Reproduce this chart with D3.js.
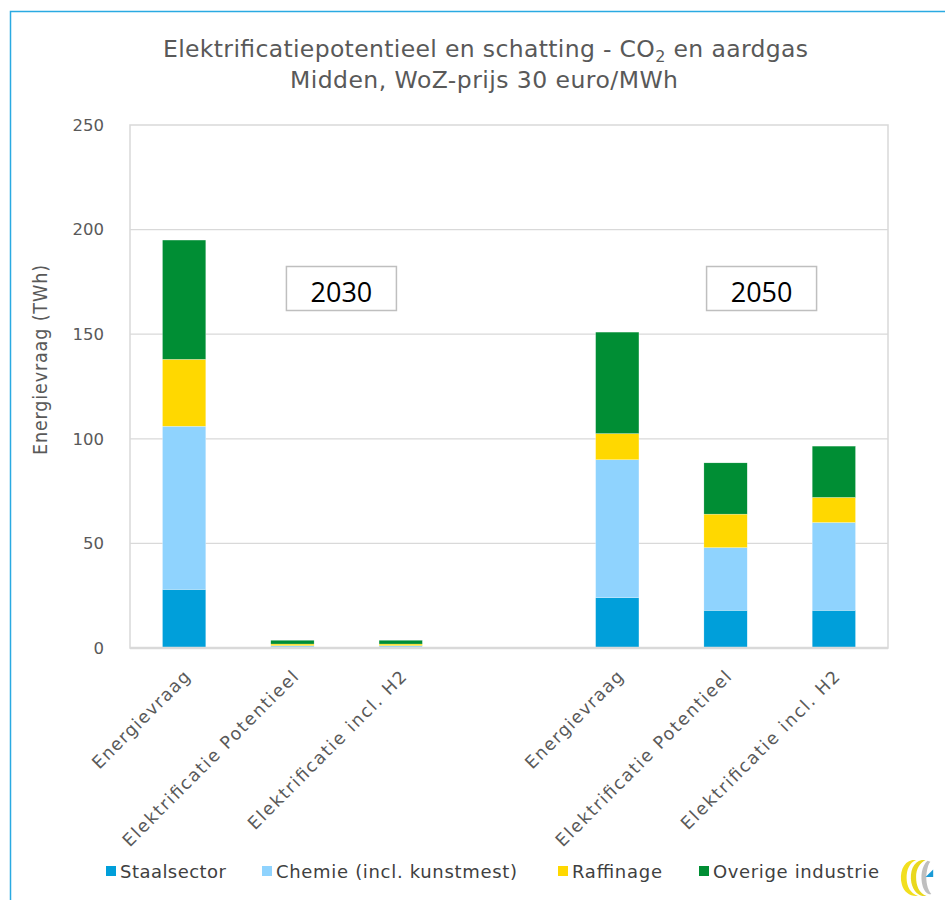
<!DOCTYPE html>
<html>
<head>
<meta charset="utf-8">
<script src="https://cdn.jsdelivr.net/npm/d3@7"></script>
<style>
  html, body { margin: 0; padding: 0; background: #fff; }
  svg { display: block; }
</style>
</head>
<body>
<svg id="chart" width="945" height="900"></svg>
<script>
// Categories along the x axis; the empty slot separates 2030 from 2050
const categories = ["Energievraag", "Elektrificatie Potentieel", "Elektrificatie incl. H2", "",
                    "Energievraag", "Elektrificatie Potentieel", "Elektrificatie incl. H2"];
const yearLabels = ["2030", "2050"];

// Energy demand per sector (TWh)
const staalsector = [28, 0.3, 0.3, 0, 24, 18, 18];
const chemie      = [78, 0.8, 0.8, 0, 66, 30, 42];
const raffinage   = [32, 0.8, 0.8, 0, 12.5, 16, 12];
const overige     = [57, 1.8, 1.8, 0, 48.5, 24.5, 24.5];

const seriesNames = ["Staalsector", "Chemie (incl. kunstmest)", "Raffinage", "Overige industrie"];
const seriesColors = ["#009fda", "#8fd3fe", "#ffd800", "#008e34"];
const yTicks = [0, 50, 100, 150, 200, 250];

const rows = categories.map((c, i) => ({
  idx: i, cat: c,
  s0: staalsector[i], s1: chemie[i], s2: raffinage[i], s3: overige[i]
}));

const svg = d3.select("#chart");

// Outer frame
svg.append("path")
  .attr("d", "M10.5,960 L10.5,11.5 L960,11.5")
  .attr("fill", "none").attr("stroke", "#2aaae2").attr("stroke-width", 1.5);

const plot = { left: 130, right: 888, top: 125, bottom: 648 };

const x = d3.scaleBand()
  .domain(rows.map(d => d.idx))
  .range([plot.left, plot.right])
  .paddingInner(0.6).paddingOuter(0.3);

const y = d3.scaleLinear().domain([0, 250]).range([plot.bottom, plot.top]);

// Gridlines
svg.append("g").selectAll("line")
  .data(yTicks.filter(t => t > 0 && t < 250))
  .join("line")
  .attr("x1", plot.left).attr("x2", plot.right)
  .attr("y1", d => y(d)).attr("y2", d => y(d))
  .attr("stroke", "#d9d9d9").attr("stroke-width", 1.3);

// Plot area border
svg.append("rect")
  .attr("x", plot.left).attr("y", plot.top)
  .attr("width", plot.right - plot.left).attr("height", plot.bottom - plot.top)
  .attr("fill", "none").attr("stroke", "#d9d9d9").attr("stroke-width", 1.5);

// Y axis tick labels
const yAxis = d3.axisLeft(y).tickValues(yTicks).tickSize(0).tickPadding(26);
svg.append("g")
  .attr("transform", `translate(${plot.left},0)`)
  .call(yAxis)
  .call(g => g.select(".domain").remove())
  .selectAll("text")
  .attr("font-family", "Verdana, 'DejaVu Sans', sans-serif")
  .attr("font-size", 16.5)
  .attr("fill", "#595959");

// Stacked bars
const keys = ["s0", "s1", "s2", "s3"];
const stacked = d3.stack().keys(keys)(rows);

svg.append("g").selectAll("g")
  .data(stacked)
  .join("g")
  .attr("fill", (d, i) => seriesColors[i])
  .selectAll("rect")
  .data(d => d.filter(p => p.data.cat !== ""))
  .join("rect")
  .attr("x", d => x(d.data.idx))
  .attr("width", x.bandwidth())
  .attr("y", d => y(d[1]))
  .attr("height", d => y(d[0]) - y(d[1]))
  .attr("stroke", "#ffffff").attr("stroke-width", 0.4).attr("stroke-opacity", 0.6);

// Bottom axis line
svg.append("line")
  .attr("x1", plot.left).attr("x2", plot.right)
  .attr("y1", plot.bottom).attr("y2", plot.bottom)
  .attr("stroke", "#d9d9d9").attr("stroke-width", 2.5);

// X axis category labels, rotated
const labelLength = {
  "Energievraag": 130,
  "Elektrificatie Potentieel": 240,
  "Elektrificatie incl. H2": 216
};
svg.append("g").selectAll("text")
  .data(rows.filter(d => d.cat !== ""))
  .join("text")
  .attr("transform", d => `translate(${x(d.idx) + x.bandwidth() / 2 + 7},${plot.bottom + 30}) rotate(-45)`)
  .attr("text-anchor", "end")
  .attr("font-family", "'DejaVu Sans', sans-serif")
  .attr("font-size", 17.5)
  .attr("fill", "#595959")
  .attr("textLength", d => labelLength[d.cat])
  .attr("lengthAdjust", "spacing")
  .text(d => d.cat);

// Y axis title
svg.append("text")
  .attr("transform", "translate(47,360) rotate(-90)")
  .attr("text-anchor", "middle")
  .attr("font-family", "'DejaVu Sans Condensed', sans-serif")
  .attr("font-size", 19.5)
  .attr("fill", "#595959")
  .attr("textLength", 190)
  .attr("lengthAdjust", "spacing")
  .text("Energievraag (TWh)");

// Chart title (two lines)
const titleFont = "'DejaVu Sans', sans-serif";
const title1 = svg.append("text")
  .attr("x", 163).attr("y", 57)
  .attr("font-family", titleFont)
  .attr("font-size", 23.5)
  .attr("fill", "#595959")
  .attr("textLength", 645)
  .attr("lengthAdjust", "spacing");
title1.append("tspan").text("Elektrificatiepotentieel en schatting - CO");
title1.append("tspan").attr("font-size", 16).attr("dy", 5).text("2");
title1.append("tspan").attr("dy", -5).text(" en aardgas");

svg.append("text")
  .attr("x", 290).attr("y", 88)
  .attr("font-family", titleFont)
  .attr("font-size", 23.5)
  .attr("fill", "#595959")
  .attr("textLength", 388)
  .attr("lengthAdjust", "spacing")
  .text("Midden, WoZ-prijs 30 euro/MWh");

// Year boxes
const yearCenters = [x(1) + x.bandwidth() / 2 + 49, x(5) + x.bandwidth() / 2 + 36];
yearLabels.forEach((lab, i) => {
  const cx = yearCenters[i];
  svg.append("rect")
    .attr("x", cx - 55).attr("y", 266.5)
    .attr("width", 110).attr("height", 44)
    .attr("fill", "#fff").attr("stroke", "#bfbfbf").attr("stroke-width", 1.5);
  svg.append("text")
    .attr("x", cx).attr("y", 302)
    .attr("text-anchor", "middle")
    .attr("font-family", "'Open Sans', sans-serif")
    .attr("font-size", 27)
    .attr("fill", "#000")
    .text(lab);
});

// Legend
const legendX = [106, 262, 558, 699];
const legendLen = [106, 241, 90, 166];
const legend = svg.append("g").selectAll("g")
  .data(seriesNames)
  .join("g")
  .attr("transform", (d, i) => `translate(${legendX[i]},866)`);
legend.append("rect").attr("width", 10).attr("height", 10)
  .attr("fill", (d, i) => seriesColors[i]);
legend.append("text")
  .attr("x", 14).attr("y", 12)
  .attr("font-family", "'DejaVu Sans', sans-serif")
  .attr("font-size", 18)
  .attr("fill", "#404040")
  .attr("textLength", (d, i) => legendLen[i])
  .attr("lengthAdjust", "spacing")
  .text(d => d);

// Logo mark
const logo = svg.append("g").attr("transform", "translate(899,858) scale(0.95)");
logo.append("path")
  .attr("d", "M14,2 C4,4 0,16 3,28 C5,36 12,41 20,40 C12,37 8,30 8,21 C8,12 11,5 18,2 Z")
  .attr("fill", "#f2df1f");
logo.append("path")
  .attr("d", "M24,2 C15,4 11,14 13,26 C15,35 21,41 29,40 C21,37 18,29 18,20 C18,11 22,5 28,2 Z")
  .attr("fill", "#e9d81e");
logo.append("path")
  .attr("d", "M30,3 C24,8 22,20 25,30 C27,36 31,39 34,38 C30,33 28,25 29,16 C30,10 31,6 33,4 Z")
  .attr("fill", "#bfbfbf");
logo.append("path")
  .attr("d", "M28,20 L36,20 L36,12 Z")
  .attr("fill", "#1a9ad6");
</script>
</body>
</html>
